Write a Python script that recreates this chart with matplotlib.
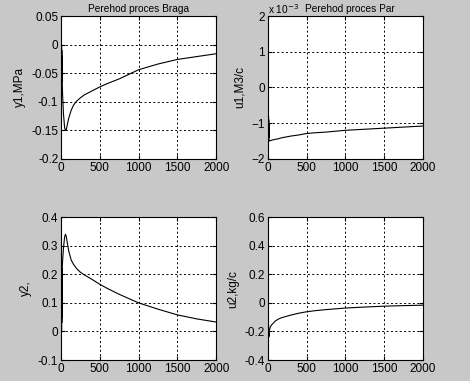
import matplotlib.pyplot as plt

plt.rcParams['font.family'] = ['Liberation Sans', 'DejaVu Sans']
plt.rcParams['font.size'] = 8.5

# temps (s)
t = [0, 1, 2, 3, 4, 5, 6, 7, 8, 9, 10, 11, 12, 14, 20, 30, 45, 55, 65, 80, 100, 130, 160, 200,
     250, 300, 400, 500, 600, 750, 1000, 1250, 1500, 1750, 2000]

# y1, MPa
y1 = [0.045, -0.06, 0.04, -0.065, 0.0, -0.065, 0.0, -0.065, -0.01, -0.065, -0.02, -0.065, -0.03, -0.065,
      -0.09, -0.12, -0.145, -0.15, -0.15, -0.14, -0.128, -0.115, -0.106, -0.099,
      -0.093, -0.088, -0.081, -0.074, -0.068, -0.06, -0.044, -0.034, -0.026, -0.021, -0.016]

# u1, M3/c (x 10^-3)
u1 = [0.5, -0.8, 0.5, -1.0, 0.3, -1.4, -0.6, -1.35, -0.8, -1.4, -0.9, -1.4, -1.0, -1.45,
      -1.5, -1.49, -1.48, -1.47, -1.47, -1.46, -1.45, -1.44, -1.42, -1.4,
      -1.38, -1.36, -1.33, -1.29, -1.27, -1.25, -1.2, -1.17, -1.14, -1.11, -1.08]

# y2
y2 = [-0.09, 0.03, -0.08, 0.2, -0.05, 0.22, 0.0, 0.2, 0.03, 0.22, 0.05, 0.21, 0.1, 0.22,
      0.25, 0.29, 0.33, 0.34, 0.335, 0.31, 0.28, 0.25, 0.235, 0.22,
      0.207, 0.198, 0.182, 0.165, 0.15, 0.13, 0.1, 0.078, 0.058, 0.044, 0.033]

# u2, kg/c
u2 = [0.08, -0.25, 0.06, -0.2, 0.0, -0.24, -0.1, -0.25, -0.15, -0.23, -0.2, -0.24, -0.21, -0.23,
      -0.19, -0.17, -0.155, -0.15, -0.145, -0.135, -0.125, -0.115, -0.107, -0.1,
      -0.092, -0.085, -0.072, -0.062, -0.055, -0.047, -0.036, -0.029, -0.023, -0.019, -0.016]

fig = plt.figure(figsize=(4.70, 3.81), dpi=100, facecolor='#c8c8c8')

def setup(ax, ylim, yticks, ylabel, title=None):
    ax.set_xlim(0, 2000)
    ax.set_ylim(*ylim)
    ax.set_xticks([0, 500, 1000, 1500, 2000])
    ax.set_yticks(yticks)
    ax.grid(True, color='black', linestyle=(0, (2, 2.5)), linewidth=0.7)
    ax.tick_params(direction='in', length=3, top=True, right=True, pad=2)
    ax.set_ylabel(ylabel, labelpad=4)
    if title:
        ax.set_title(title, fontsize=7.3, pad=3)

ax1 = fig.add_axes([0.130, 0.583, 0.330, 0.375])
ax1.plot(t, y1, color='black', linewidth=0.8)
setup(ax1, (-0.2, 0.05), [-0.2, -0.15, -0.1, -0.05, 0, 0.05], 'y1,MPa', 'Perehod proces Braga')
ax1.set_yticklabels(['-0.2', '-0.15', '-0.1', '-0.05', '0', '0.05'])

ax2 = fig.add_axes([0.570, 0.583, 0.330, 0.375])
ax2.plot(t, u1, color='black', linewidth=0.8)
setup(ax2, (-2, 2), [-2, -1, 0, 1, 2], 'u1,M3/c')
ax2.set_title('Perehod proces Par', fontsize=7.3, pad=3, x=0.53)
ax2.text(0.0, 1.0, r'x 10$^{-3}$', transform=ax2.transAxes, fontsize=7.3, va='bottom', ha='left')

ax3 = fig.add_axes([0.130, 0.055, 0.330, 0.375])
ax3.plot(t, y2, color='black', linewidth=0.8)
setup(ax3, (-0.1, 0.4), [-0.1, 0, 0.1, 0.2, 0.3, 0.4], 'y2,')
ax3.set_yticklabels(['-0.1', '0', '0.1', '0.2', '0.3', '0.4'])

ax4 = fig.add_axes([0.570, 0.055, 0.330, 0.375])
ax4.plot(t, u2, color='black', linewidth=0.8)
setup(ax4, (-0.4, 0.6), [-0.4, -0.2, 0, 0.2, 0.4, 0.6], 'u2,kg/c')
ax4.set_yticklabels(['-0.4', '-0.2', '0', '0.2', '0.4', '0.6'])

fig.savefig('out.png', dpi=100, facecolor=fig.get_facecolor())
